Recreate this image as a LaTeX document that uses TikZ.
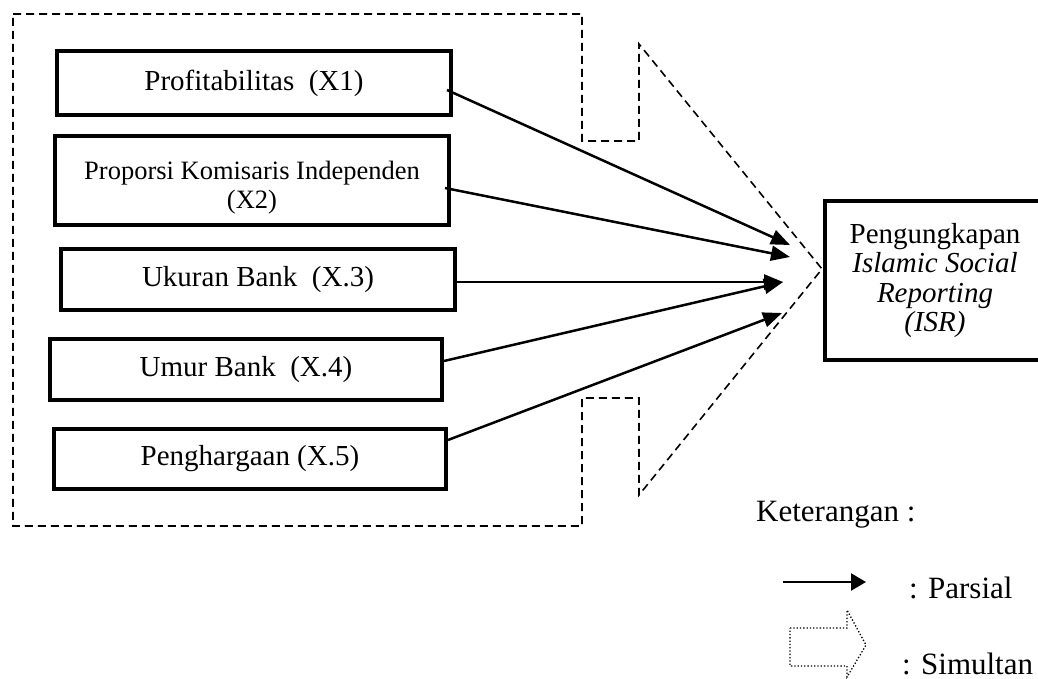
\documentclass[tikz,border=0pt]{standalone}
\usepackage{fontspec}
\setmainfont{Liberation Serif}
\usetikzlibrary{arrows.meta,calc}
\begin{document}
\begin{tikzpicture}[x=1pt,y=-1pt,
  var/.style={draw, line width=4pt, inner sep=0pt, align=center, font=\fontsize{29}{33}\selectfont},
  vartext/.style={inner sep=0pt, align=center},
  conn/.style={line width=2.5pt, -{Triangle[length=19pt,width=15pt]}},
  simul/.style={dash pattern=on 8pt off 5pt, line width=1.6pt},
  legtext/.style={anchor=west, inner sep=0pt, font=\fontsize{31}{35}\selectfont}]
\useasboundingbox (0,0) rectangle (1038,679);

% simultaneous (big dashed arrow)
\draw[simul] (13,14) -- (582,14) -- (582,141) -- (639,141) -- (639,44) -- (822,269)
  -- (639,495) -- (639,398) -- (582,398) -- (582,526) -- (13,526) -- cycle;

% variable boxes
\node[var, minimum width=394pt, minimum height=64pt] (b1) at (254,83) {\raisebox{-3pt}{Profitabilitas\ \ (X1)}};
\node[var, minimum width=394pt, minimum height=89pt] (b2) at (252,180.5) {};
\node[vartext, font=\fontsize{26.5}{29.5}\selectfont] (b2txt) at ([yshift=-7pt]b2.center)
  {Proporsi Komisaris Independen\\(X2)};
\node[var, minimum width=394pt, minimum height=61pt] (b3) at (258,279.5) {\raisebox{-2pt}{Ukuran Bank\ \ (X.3)}};
\node[var, minimum width=392pt, minimum height=61pt] (b4) at (246,369.5) {Umur Bank\ \ (X.4)};
\node[var, minimum width=392pt, minimum height=60pt] (b5) at (250,459) {Penghargaan (X.5)};

% dependent variable
\node[var, minimum width=220pt, minimum height=159pt, font=\fontsize{29}{29.5}\selectfont] (isr) at (935,280.5)
  {Pengungkapan\\\textit{Islamic Social}\\\textit{Reporting}\\\textit{(ISR)}};

% arrow ends
\coordinate (t1) at (790,245);
\coordinate (t2) at (790,257);
\coordinate (t3) at (783,282);
\coordinate (t5) at (782,313);

\draw[conn] ([xshift=-6pt,yshift=-7pt]b1.east) -- (t1);
\draw[conn] ([xshift=-6pt,yshift=-7.5pt]b2.east) -- (t2);
\draw[conn] ([yshift=-2.5pt]b3.east) -- (t3);
\draw[conn] ([yshift=8.5pt]b4.east) -- (t3);
\draw[conn] ([yshift=19pt]b5.east) -- (t5);

% legend
\node[legtext] (ket) at (756,515) {Keterangan :};
\coordinate (lp1) at (783,582);
\coordinate (lp2) at (866,582);
\draw[line width=2.5pt, -{Triangle[length=15pt,width=17pt]}] (lp1) -- (lp2);
\node[legtext] (parsial) at (909,588) {: Parsial};
\draw[dotted, line width=1.3pt] (790,628) -- (847,628) -- (847,610) -- (866,645)
  -- (847,677) -- (847,666) -- (790,666) -- cycle;
\node[legtext] (simultan) at (902,664) {: Simultan};
\end{tikzpicture}
\end{document}
